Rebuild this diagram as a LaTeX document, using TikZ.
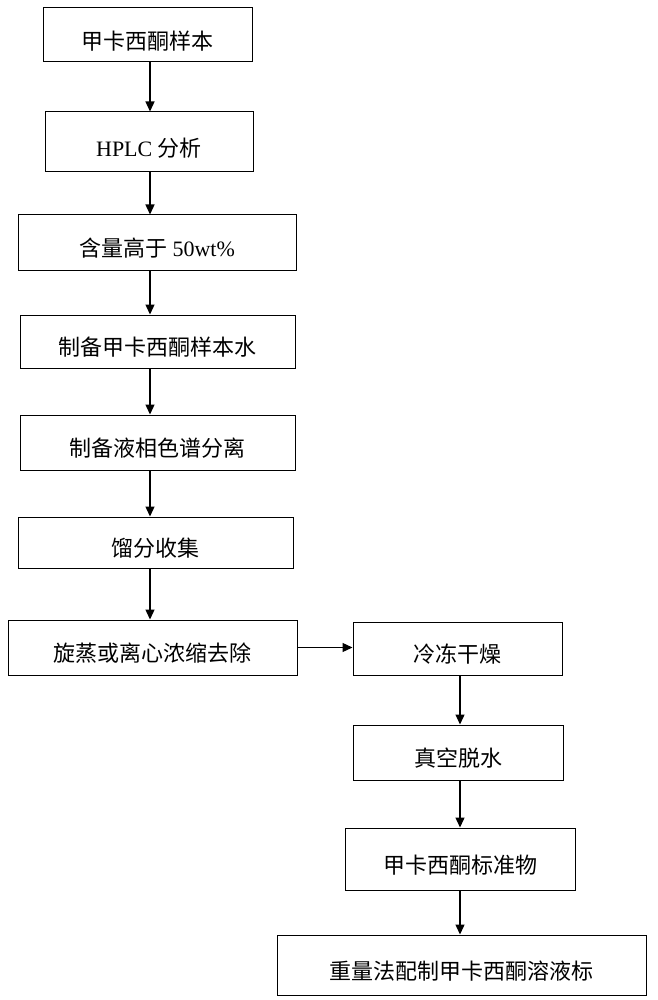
\documentclass[tikz,border=0pt]{standalone}
\usepackage{fontspec}
\setmainfont{Liberation Serif}
\newfontfamily\cjk{Noto Sans CJK SC}
\usetikzlibrary{arrows.meta}
\begin{document}
\begin{tikzpicture}[x=1pt,y=-1pt,
  box/.style={draw,line width=1pt,inner sep=0pt,font=\fontsize{22}{24}\selectfont},
  arr/.style={-{Triangle[length=10pt,width=9pt]},line width=1.3pt}]
\useasboundingbox (0,0) rectangle (657,1000);
\newcommand\bx[6]{\node[box,minimum width=#4-#2,minimum height=#5-#3] (#1) at ({(#2+#4)/2},{(#3+#5)/2}) {};
  \node[font=\fontsize{22}{24}\selectfont] at ({(#2+#4)/2},{(#3+#5)/2+6}) {#6};}
\bx{a}{43}{8}{252}{62}{\cjk 甲卡西酮样本}
\bx{b}{45}{112}{253}{172}{HPLC {\cjk 分析}}
\bx{c}{18}{215}{296}{270}{{\cjk 含量高于} 50wt\%}
\bx{d}{20}{315}{295}{368}{\cjk 制备甲卡西酮样本水}
\bx{e}{20}{415}{295}{470}{\cjk 制备液相色谱分离}
\bx{f}{18}{517}{293}{568}{\cjk 馏分收集}
\bx{g}{8}{620}{297}{675}{\cjk 旋蒸或离心浓缩去除}
\bx{h}{353}{622}{562}{675}{\cjk 冷冻干燥}
\bx{i}{353}{725}{563}{780}{\cjk 真空脱水}
\bx{j}{345}{828}{575}{890}{\cjk 甲卡西酮标准物}
\bx{k}{277}{935}{646}{995}{\cjk 重量法配制甲卡西酮溶液标}
\draw[arr] (a.south -| 150,0) -- (b.north -| 150,0);
\draw[arr] (b.south -| 150,0) -- (c.north -| 150,0);
\draw[arr] (c.south -| 150,0) -- (d.north -| 150,0);
\draw[arr] (d.south -| 150,0) -- (e.north -| 150,0);
\draw[arr] (e.south -| 150,0) -- (f.north -| 150,0);
\draw[arr] (f.south -| 150,0) -- (g.north -| 150,0);
\draw[arr] (g.east) -- (h.west |- g.east);
\draw[arr] (h.south -| 460,0) -- (i.north -| 460,0);
\draw[arr] (i.south -| 460,0) -- (j.north -| 460,0);
\draw[arr] (j.south -| 460,0) -- (k.north -| 460,0);
\end{tikzpicture}
\end{document}
